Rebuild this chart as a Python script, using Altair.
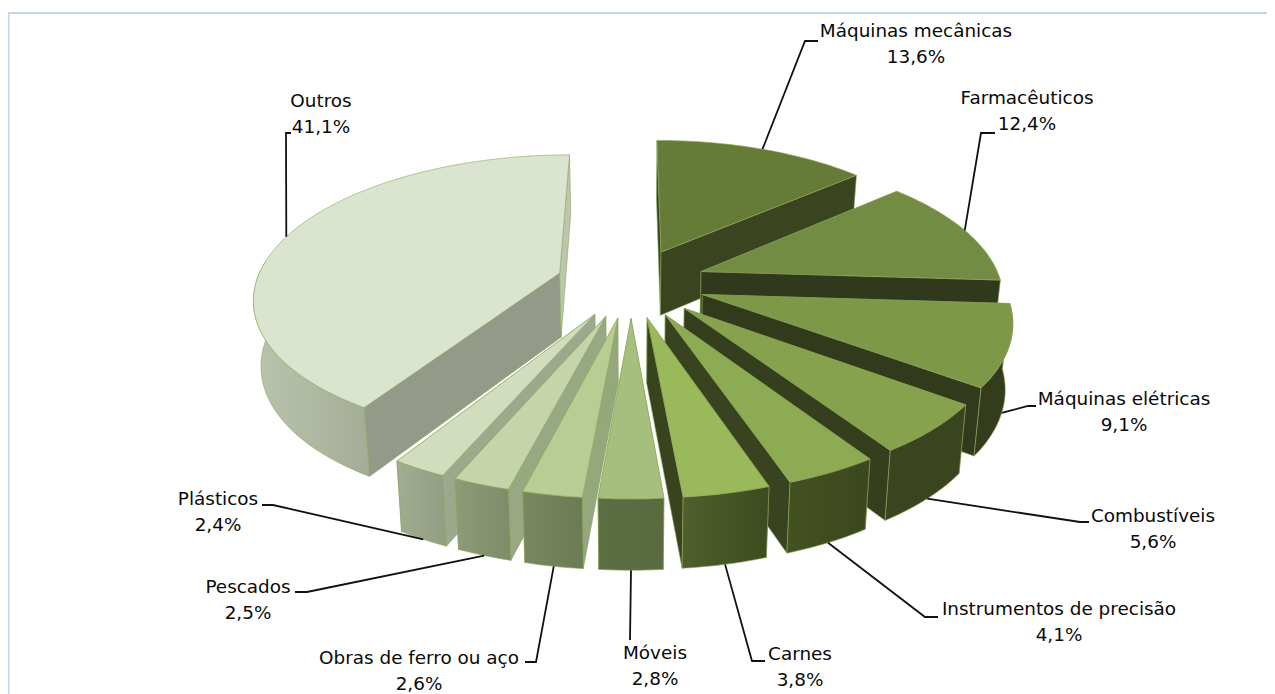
import math
import altair as alt
import pandas as pd

# ---- data ----
NAMES = ["Máquinas mecânicas", "Farmacêuticos", "Máquinas elétricas", "Combustíveis",
         "Instrumentos de precisão", "Carnes", "Móveis", "Obras de ferro ou aço",
         "Pescados", "Plásticos", "Outros"]
SHARES = [13.6, 12.4, 9.1, 5.6, 4.1, 3.8, 2.8, 2.6, 2.5, 2.4, 41.1]

# ---- styles ----
TOP = ["#667B38", "#738C44", "#7D9947", "#87A24C", "#8DAB53", "#9AB95A",
       "#A5C07D", "#B8CC94", "#C5D4AB", "#D2DDBE", "#DBE4CE"]
WALL = ["#3A441F", "#30391B", "#323A1C", "#363F1D", "#39431F", "#39441F",
        "#8FA374", "#94A87B", "#98A883", "#9CA98D", "#939A87"]
WALL_END = ["#3A441F", "#30391B", "#323A1C", "#363F1D", "#39431F", "#39441F",
            "#8FA374", "#94A87B", "#98A883", "#9CA98D", "#BCC6AE"]
RIM_L = ["#3A441F", "#30391B", "#343C1C", "#3A451F", "#44511F", "#505F2C",
         "#5E6E44", "#7A8760", "#8E9A78", "#A2AC91", "#BAC4AC"]
RIM_R = ["#3A441F", "#30391B", "#343C1C", "#3A451F", "#3C4720", "#3E4A20",
         "#5A6A3F", "#6D7B54", "#7E8C69", "#929D83", "#A4AC96"]
EDGE = "#8DA85C"
PAINT_ORDER = [10, 0, 1, 2, 3, 4, 5, 9, 8, 7, 6]
RADIUS = [1, 1, 1, 1, 1, 1, 1, 1, 1, 1, 1.012]

# label layout, in page pixels: label centre (first line), leader start, knee
LABEL_POS = [(916, 31), (1027, 98), (1124, 399), (1153, 516), (1059, 609), (800, 654),
             (655, 653), (419, 658), (248, 587), (218, 499), (321, 101)]
LEADER_START = [(818, 41), (995, 133), (1036, 406), (1089, 522), (938, 617), (765, 661),
                (630, 636), (525, 662), (295, 592), (262, 505), (291, 133)]
LEADER_KNEE = [(805, 41), (981, 133), (1028, 406), (1080, 522), (925, 617), (752, 661),
               (630, 640), (536, 662), (307, 592), (273, 505), (286, 133)]
LEADER_ON_TOP_FACE = [True, True, False, False, False, False, False, False, False, False, True]

# ---- pie geometry (perspective view of an exploded disc) ----
OX, OY = 8, 8
CX, CY, RX, RY = 631, 282.5, 300, 138.5
PERSP, EXPLODE, SHRINK = 0.16, 0.25, 0.98


def project(X, Y, bottom=False):
    w = 1 + PERSP * Y
    sx = RX * X / w
    sy = -RY * Y / w
    if bottom:
        sx *= SHRINK
        sy += 64.5 - 5.5 * Y
    return [CX + sx - OX, CY + sy - OY]


def disc(mid, t, r):
    a, b = math.radians(mid), math.radians(t)
    return EXPLODE * math.sin(a) + r * math.sin(b), EXPLODE * math.cos(a) + r * math.cos(b)


def arc_angles(t0, t1, step=1.5):
    n = max(2, int(math.ceil((t1 - t0) / step)))
    return [t0 + (t1 - t0) * i / n for i in range(n + 1)]


def poly_layer(points, fill):
    ring = points + [points[0]]
    feature = {"type": "Feature", "properties": {},
               "geometry": {"type": "Polygon", "coordinates": [ring]}}
    return (alt.Chart(alt.InlineData(values=[feature]))
            .mark_geoshape(fill=fill, stroke=EDGE, strokeWidth=0.6)
            .project(type="identity", scale=1, translate=[0, 0]))


spans, c = [], 0.0
for s in SHARES:
    spans.append((c * 3.6, (c + s) * 3.6))
    c += s

layers = []

# frame of the page
frame = pd.DataFrame({"x": [0.6, 0.6, 1259], "y": [686, 5, 5]})
layers.append(alt.Chart(frame).mark_line(color="#C6D6E9", strokeWidth=2).encode(
    x=alt.X("x:Q", scale=None, axis=None), y=alt.Y("y:Q", scale=None, axis=None),
    order=alt.Order("i:Q")).transform_window(i="row_number()"))

for k in PAINT_ORDER:
    t0, t1 = spans[k]
    mid = (t0 + t1) / 2
    r = RADIUS[k]
    apex = disc(mid, t0, 0)
    for t, colour in ((t0, WALL[k]), (t1, WALL_END[k])):
        rim = disc(mid, t, r)
        layers.append(poly_layer([project(*apex), project(*rim),
                                  project(*rim, bottom=True), project(*apex, bottom=True)], colour))
    a, b = max(t0, 85), min(t1, 275)
    if b > a and t1 > 100:
        ang = arc_angles(a, b)
        top_edge = [project(*disc(mid, t, r)) for t in ang]
        bot_edge = [project(*disc(mid, t, r), bottom=True) for t in ang]
        grad = alt.LinearGradient(gradient="linear", x1=0, x2=1, y1=0, y2=0, stops=[
            alt.GradientStop(color=RIM_L[k], offset=0), alt.GradientStop(color=RIM_R[k], offset=1)])
        layers.append(poly_layer(top_edge + bot_edge[::-1], grad))
    face = [project(*apex)] + [project(*disc(mid, t, r)) for t in arc_angles(t0, t1)]
    layers.append(poly_layer(face, TOP[k]))

# leaders
rows = []
for k, name in enumerate(NAMES):
    t0, t1 = spans[k]
    mid = (t0 + t1) / 2
    tip = project(*disc(mid, mid, RADIUS[k]), bottom=not LEADER_ON_TOP_FACE[k])
    pts = [(LEADER_START[k][0] - OX, LEADER_START[k][1] - OY),
           (LEADER_KNEE[k][0] - OX, LEADER_KNEE[k][1] - OY), tuple(tip)]
    for i, (x, y) in enumerate(pts):
        rows.append({"name": name, "i": i, "x": x, "y": y})
layers.append(alt.Chart(pd.DataFrame(rows)).mark_line(color="#111111", strokeWidth=1.8).encode(
    x=alt.X("x:Q", scale=None, axis=None), y=alt.Y("y:Q", scale=None, axis=None),
    detail="name:N", order="i:Q"))

# labels
text_rows = []
for k, name in enumerate(NAMES):
    x, y = LABEL_POS[k]
    text_rows.append({"x": x - OX, "y": y - OY, "t": name})
    text_rows.append({"x": x - OX, "y": y + 26 - OY, "t": f"{SHARES[k]:.1f}%".replace(".", ",")})
layers.append(alt.Chart(pd.DataFrame(text_rows)).mark_text(
    font="DejaVu Sans", fontSize=18.4, color="#0A0A0A", align="center", baseline="middle").encode(
    x=alt.X("x:Q", scale=None, axis=None), y=alt.Y("y:Q", scale=None, axis=None), text="t:N"))

chart = alt.layer(*layers).properties(
    width=1259, height=686, padding=0, autosize=alt.AutoSizeParams(type="none"),
    background="white").configure_view(stroke=None)
chart.save("out.html", embed_options={"renderer": "svg", "actions": False})
